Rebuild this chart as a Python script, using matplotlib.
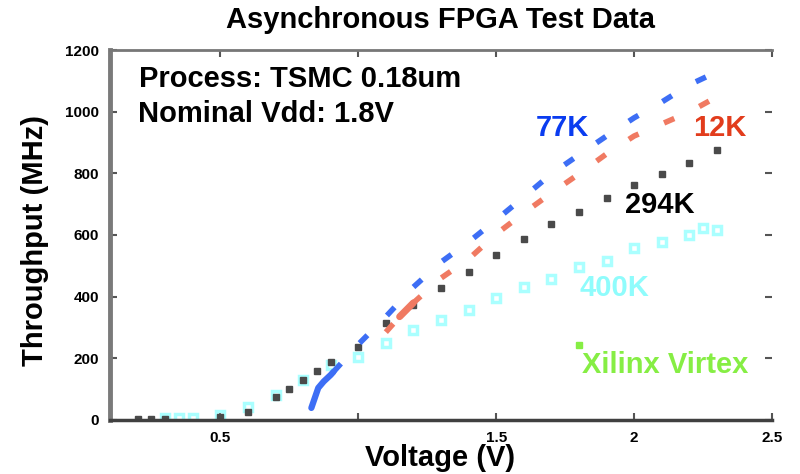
import matplotlib
matplotlib.use("Agg")
import matplotlib.pyplot as plt

plt.rcParams['font.family'] = ['Liberation Sans', 'DejaVu Sans']
plt.rcParams['font.weight'] = 'bold'

# Throughput (MHz) vs supply voltage (V)
v77 = [0.83, 0.84, 0.855, 0.875, 0.90, 0.91, 1.0, 1.1, 1.2, 1.3, 1.4, 1.5,
       1.6, 1.7, 1.8, 1.9, 2.0, 2.1, 2.2, 2.3]
t77 = [39, 65, 104, 125, 146, 156, 245, 335, 431, 512, 577, 649,
       723, 798, 860, 921, 980, 1031, 1087, 1129]

v12 = [1.1, 1.15, 1.2, 1.3, 1.4, 1.5, 1.6, 1.7, 1.8, 1.9, 2.0, 2.1, 2.2, 2.3]
t12 = [285, 335, 380, 460, 522, 603, 671, 736, 798, 863, 921, 960, 999, 1048]

v294 = [0.2, 0.25, 0.3, 0.5, 0.6, 0.7, 0.75, 0.8, 0.85, 0.9, 1.0, 1.1, 1.2,
        1.3, 1.4, 1.5, 1.6, 1.7, 1.8, 1.9, 2.0, 2.1, 2.2, 2.3]
t294 = [2, 2, 2, 10, 26, 75, 100, 130, 160, 188, 237, 315, 372,
        428, 480, 535, 587, 636, 675, 720, 762, 798, 834, 876]

v400 = [0.3, 0.35, 0.4, 0.5, 0.6, 0.7, 0.8, 0.9, 1.0, 1.1, 1.2, 1.3, 1.4,
        1.5, 1.6, 1.7, 1.8, 1.9, 2.0, 2.1, 2.2, 2.25, 2.3]
t400 = [5, 5, 5, 16, 42, 81, 130, 178, 204, 250, 292, 324, 357,
        396, 431, 457, 496, 516, 558, 577, 600, 623, 616]

v_xilinx = [1.8]
t_xilinx = [243]

xticks = [0.5, 1.0, 1.5, 2.0, 2.5]
xtick_labels = ["0.5", "", "1.5", "2", "2.5"]
yticks = [0, 200, 400, 600, 800, 1000, 1200]

fig = plt.figure(figsize=(8, 4.74), dpi=100)
ax = fig.add_axes([0.1375, 0.114, 0.8275, 0.7805])

blue = "#3d6ef5"
red = "#f07a62"
gray = "#4a4a4a"
cyan = "#aaffff"

# 400K - hollow cyan squares
ax.plot(v400, t400, linestyle="none", marker="s", markersize=5.5,
        markerfacecolor="none", markeredgecolor=cyan, markeredgewidth=2.5)
# 294K - small dark squares
ax.plot(v294, t294, linestyle="none", marker="s", markersize=4,
        color=gray)
# 12K
ax.plot(v12[1:3], t12[1:3], color=red, lw=5, solid_capstyle="round")
ax.plot(v12, t12, color=red, lw=4, dashes=(2, 5))
# 77K
ax.plot(v77[:6], t77[:6], color=blue, lw=4.5, solid_capstyle="round")
ax.plot(v77[5:], t77[5:], color=blue, lw=4, dashes=(2, 5))
# Xilinx Virtex
ax.plot(v_xilinx, t_xilinx, linestyle="none", marker="s", markersize=4,
        color="#86ee44")

ax.set_xlim(0.1, 2.5)
ax.set_ylim(0, 1200)
ax.set_xticks(xticks)
ax.set_xticklabels(xtick_labels)
ax.set_yticks(yticks)

ax.spines["left"].set_color("#7a7a7a")
ax.spines["left"].set_linewidth(3.5)
ax.spines["bottom"].set_color("#404040")
ax.spines["bottom"].set_linewidth(2.5)
ax.spines["top"].set_color("#777777")
ax.spines["top"].set_linewidth(2)
ax.spines["right"].set_visible(False)

ax.tick_params(axis="both", direction="in", length=5, width=1.5,
               color="#555555", labelsize=11, pad=8)
ax.tick_params(axis="y", right=True, labelright=False)
ax.tick_params(axis="x", top=True, labeltop=False)

fs = 21
ax.text(0.206, 1105, "Process: TSMC 0.18um", fontsize=fs, fontweight="bold",
        ha="left", va="center")
ax.text(0.202, 993, "Nominal Vdd: 1.8V", fontsize=fs, fontweight="bold",
        ha="left", va="center")
ax.text(1.739, 947, "77K", color="#0a3cf0", fontsize=fs, fontweight="bold",
        ha="center", va="center")
ax.text(2.312, 947, "12K", color="#e23c1c", fontsize=fs, fontweight="bold",
        ha="center", va="center")
ax.text(2.094, 697, "294K", color="black", fontsize=fs, fontweight="bold",
        ha="center", va="center")
ax.text(1.927, 428, "400K", color="#8ffcfc", fontsize=fs, fontweight="bold",
        ha="center", va="center")
ax.text(2.112, 178, "Xilinx Virtex", color="#86ee44", fontsize=fs,
        fontweight="bold", ha="center", va="center")

fig.text(441 / 800, 1 - 20 / 474, "Asynchronous FPGA Test Data",
         fontsize=fs, fontweight="bold", ha="center", va="center")
fig.text(440 / 800, 1 - 458 / 474, "Voltage (V)", fontsize=fs,
         fontweight="bold", ha="center", va="center")
fig.text(35 / 800, 1 - 240 / 474, "Throughput (MHz)", fontsize=fs,
         fontweight="bold", ha="center", va="center", rotation=90)

plt.savefig("out.png", dpi=100)
